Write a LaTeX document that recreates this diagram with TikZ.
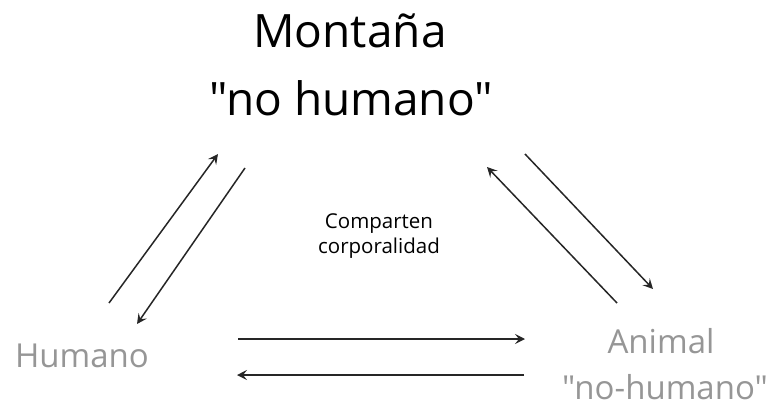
\documentclass[tikz,border=0pt]{standalone}
\usepackage{fontspec}
\setmainfont{Open Sans}[Ligatures=TeXOff]
\usetikzlibrary{arrows.meta}
\definecolor{lblgray}{RGB}{150,150,150}
\tikzset{
  conn/.style={line width=1.5pt, draw=black!85, -{Stealth[length=10pt,width=10pt,inset=4pt]}},
  title/.style={font=\fontsize{46}{67}\selectfont, text=black, inner sep=0pt, anchor=base, align=center},
  side/.style={font=\fontsize{33}{45}\selectfont, text=lblgray, inner sep=0pt, anchor=base, align=center},
  note/.style={font=\fontsize{20.5}{25}\selectfont, text=black, inner sep=0pt, anchor=base, align=center}
}
\begin{document}
\begin{tikzpicture}[x=1pt,y=-1pt]
\useasboundingbox (0,0) rectangle (770,412);
\node[title] (mont) at (350,48) {Montaña};
\node[title] (month) at (351,115) {"no humano"};
\node[note] (comp) at (379,228) {Comparten};
\node[note] (corp) at (379,253) {corporalidad};
\node[side] (hum) at (82,367) {Humano};
\node[side] (anim) at (661,353) {Animal};
\node[side] (animh) at (665,399) {"no-humano"};
% arrow endpoints
\coordinate (a1s) at (109,303); \coordinate (a1e) at (218,154);
\coordinate (a2s) at (245,168); \coordinate (a2e) at (137,324);
\coordinate (a3s) at (617,303); \coordinate (a3e) at (487,167);
\coordinate (a4s) at (525,154); \coordinate (a4e) at (653,289);
\coordinate (a5s) at (238,339); \coordinate (a5e) at (525,339);
\coordinate (a6s) at (524,375); \coordinate (a6e) at (237,375);
\draw[conn] (a1s) -- (a1e);
\draw[conn] (a2s) -- (a2e);
\draw[conn] (a3s) -- (a3e);
\draw[conn] (a4s) -- (a4e);
\draw[conn] (a5s) -- (a5e);
\draw[conn] (a6s) -- (a6e);
\end{tikzpicture}
\end{document}
